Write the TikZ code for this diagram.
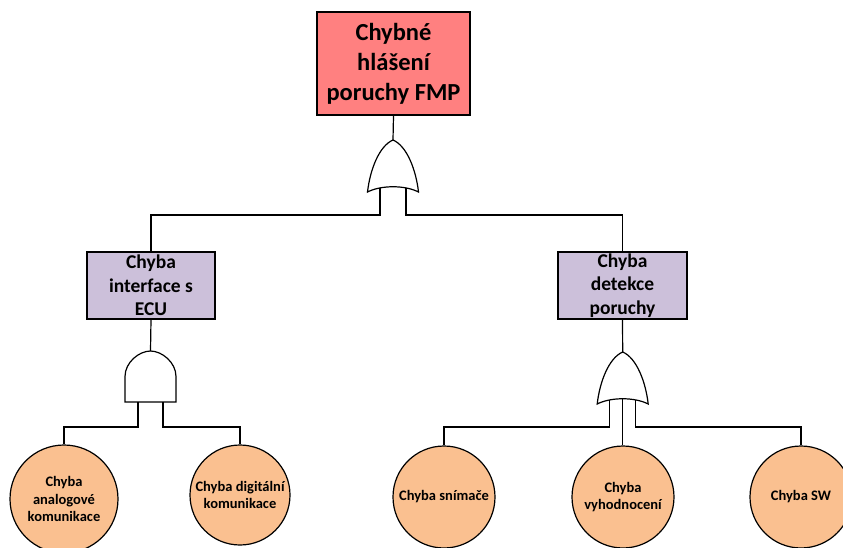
\documentclass[tikz,border=0pt]{standalone}
\usepackage{fontspec}
\setmainfont{Carlito}
\definecolor{topred}{HTML}{FF8080}
\definecolor{midlilac}{HTML}{CCC0DA}
\definecolor{basicorange}{HTML}{FAC090}

\tikzset{
  wire/.style={line width=1.2pt, draw=black},
  topevent/.style={wire, fill=topred, rectangle, inner sep=0pt,
    minimum width=153pt, minimum height=103pt, align=center,
    font=\fontsize{24.5}{30}\selectfont\bfseries},
  midevent/.style={wire, fill=midlilac, rectangle, inner sep=0pt,
    minimum width=128pt, minimum height=67pt, align=center,
    font=\fontsize{19.5}{23.5}\selectfont\bfseries},
  basicevent/.style={wire, fill=basicorange, circle, inner sep=0pt,
    align=center, font=\fontsize{14.5}{17.7}\selectfont\bfseries},
  orgate/.pic={
    \path[wire, fill=white] (-25.5,52) .. controls (-23,30) and (-14,6) .. (0,0)
      .. controls (14,6) and (23,30) .. (25.5,52)
      .. controls (12,45) and (-12,45) .. cycle;
    \coordinate (-tip) at (0,0);
    \coordinate (-inL) at (-13,48);
    \coordinate (-inC) at (0,46.75);
    \coordinate (-inR) at (13,48);
  },
  andgate/.pic={
    \path[wire, fill=white] (-25.5,51) -- (-25.5,25.5)
      .. controls (-25.5,11.4) and (-11.4,0) .. (0,0)
      .. controls (11.4,0) and (25.5,11.4) .. (25.5,25.5)
      -- (25.5,51) -- cycle;
    \coordinate (-tip) at (0,0);
    \coordinate (-inL) at (-12.5,51);
    \coordinate (-inR) at (12.5,51);
  }
}

\begin{document}
\begin{tikzpicture}[x=1pt, y=-1pt]
\useasboundingbox (0,0) rectangle (843,547);

% events
\node[topevent] (top) at (393.5,63.5) {Chybné\\hlášení\\poruchy FMP};
\node[midevent] (ecu) at (151,285.5) {Chyba\\interface s\\ECU};
\node[midevent, minimum width=129pt] (det) at (622.5,285.5) {Chyba\\detekce\\poruchy};

% gates
\pic (g1) at (393,140) {orgate};
\pic (g2) at (150.5,351) {andgate};
\pic (g3) at (622.7,352) {orgate};

% basic events
\node[basicevent, minimum size=108pt] (c1) at (64,499) {Chyba\\analogové\\komunikace};
\node[basicevent, minimum size=100pt] (c2) at (240,495) {Chyba digitální\\komunikace};
\node[basicevent, minimum size=102pt] (c3) at (444,497) {Chyba snímače};
\node[basicevent, minimum size=102pt] (c4) at (623,497) {Chyba\\vyhodnocení};
\node[basicevent, minimum size=102pt] (c5) at (801,497) {Chyba SW};

% connectors
\draw[wire] (top.south) -- (g1-tip);
\draw[wire] (g1-inL) -- ++(0,27) -| (ecu.north);
\draw[wire] (g1-inR) -- ++(0,27) -| (det.north);

\draw[wire] (ecu.south) -- (g2-tip);
\draw[wire] (g2-inL) -- ++(0,25) -| (c1.north);
\draw[wire] (g2-inR) -- ++(0,25) -| (c2.north);

\draw[wire] (det.south) -- (g3-tip);
\draw[wire] (g3-inL) -- ++(0,27) -| (c3.north);
\draw[wire] (g3-inC) -- (g3-inC |- c4.north);
\draw[wire] (g3-inR) -- ++(0,27) -| (c5.north);
\end{tikzpicture}
\end{document}
